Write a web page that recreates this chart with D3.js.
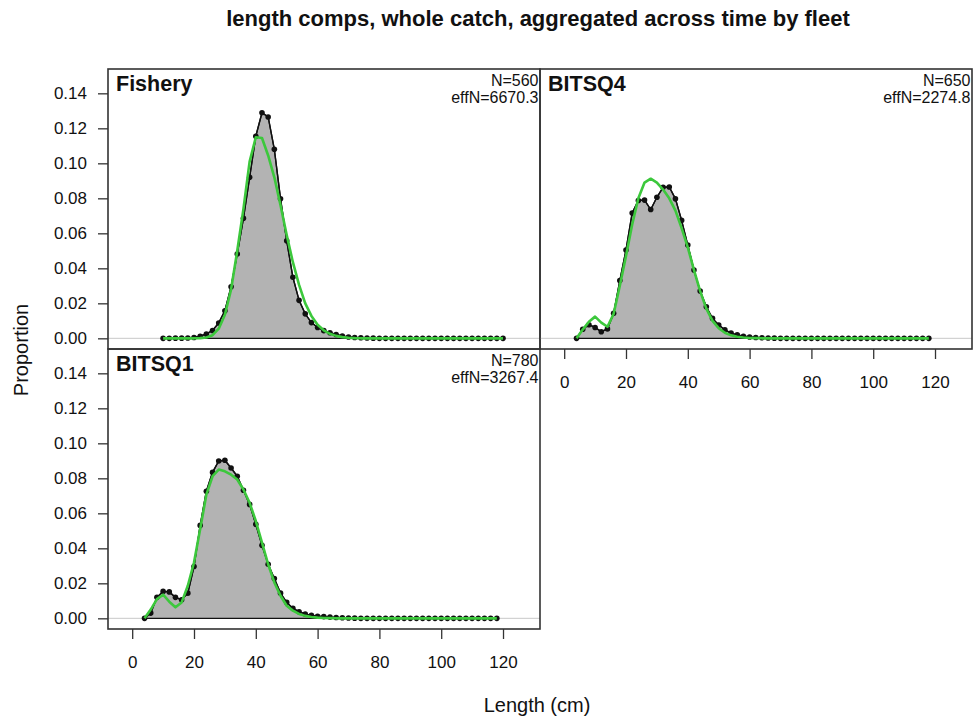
<!DOCTYPE html>
<html>
<head>
<meta charset="utf-8">
<script src="https://cdn.jsdelivr.net/npm/d3@7"></script>
<style>
  body { margin: 0; background: #fff; }
  text { font-family: "Liberation Sans", Arial, sans-serif; fill: #111; }
</style>
</head>
<body>
<script>
// length bins (cm)
const fisheryBins = [10, 12, 14, 16, 18, 20, 22, 24, 26, 28, 30, 32, 34, 36, 38, 40, 42, 44, 46, 48,
  50, 52, 54, 56, 58, 60, 62, 64, 66, 68, 70, 72, 74, 76, 78, 80, 82, 84, 86, 88,
  90, 92, 94, 96, 98, 100, 102, 104, 106, 108, 110, 112, 114, 116, 118, 120];
const surveyBins = [4, 6, 8, 10, 12, 14, 16, 18, 20, 22, 24, 26, 28, 30, 32, 34, 36, 38, 40, 42,
  44, 46, 48, 50, 52, 54, 56, 58, 60, 62, 64, 66, 68, 70, 72, 74, 76, 78, 80, 82,
  84, 86, 88, 90, 92, 94, 96, 98, 100, 102, 104, 106, 108, 110, 112, 114, 116, 118];

// observed (black) and expected (green) proportions
const fisheryObs = [0, 0, 0.0001, 0.0001, 0.0002, 0.0005, 0.0012, 0.0025, 0.0045, 0.0088,
  0.0158, 0.0295, 0.0482, 0.0686, 0.0920, 0.1155, 0.1289, 0.1265, 0.1080, 0.0798,
  0.0557, 0.0349, 0.0217, 0.0140, 0.0090, 0.0062, 0.0044, 0.0032, 0.0022, 0.0013,
  0.0008, 0.0005, 0.0003, 0.0002, 0.0001, 0, 0, 0, 0, 0,
  0, 0, 0, 0, 0, 0, 0, 0, 0, 0, 0, 0, 0, 0, 0, 0];
const fisheryExp = [0, 0, 0, 0, 0, 0, 0.0001, 0.0005, 0.0018, 0.0055,
  0.0135, 0.0280, 0.0500, 0.0740, 0.1010, 0.1149, 0.1145, 0.1045, 0.0920, 0.0760,
  0.0590, 0.0435, 0.0305, 0.0200, 0.0128, 0.0078, 0.0046, 0.0026, 0.0014, 0.0007,
  0.0003, 0.0001, 0, 0, 0, 0, 0, 0, 0, 0,
  0, 0, 0, 0, 0, 0, 0, 0, 0, 0, 0, 0, 0, 0, 0, 0];

const bitsq4Obs = [0, 0.0052, 0.0078, 0.0062, 0.0038, 0.0054, 0.0143, 0.0330, 0.0505, 0.0716,
  0.0788, 0.0790, 0.0736, 0.0806, 0.0863, 0.0865, 0.0797, 0.0674, 0.0533, 0.0390,
  0.0270, 0.0180, 0.0114, 0.0076, 0.0049, 0.0030, 0.0020, 0.0012, 0.0008, 0.0005,
  0.0003, 0.0002, 0.0001, 0, 0, 0, 0, 0, 0, 0,
  0, 0, 0, 0, 0, 0, 0, 0, 0, 0, 0, 0, 0, 0, 0, 0, 0, 0];
const bitsq4Exp = [0, 0.0050, 0.0095, 0.0124, 0.0090, 0.0066, 0.0140, 0.0300, 0.0470, 0.0650,
  0.0800, 0.0890, 0.0912, 0.0890, 0.0850, 0.0800, 0.0730, 0.0630, 0.0520, 0.0390,
  0.0270, 0.0170, 0.0100, 0.0058, 0.0032, 0.0017, 0.0009, 0.0005, 0.0002, 0.0001,
  0, 0, 0, 0, 0, 0, 0, 0, 0, 0,
  0, 0, 0, 0, 0, 0, 0, 0, 0, 0, 0, 0, 0, 0, 0, 0, 0, 0];

const bitsq1Obs = [0, 0.0030, 0.0120, 0.0154, 0.0151, 0.0120, 0.0106, 0.0144, 0.0296, 0.0531,
  0.0726, 0.0834, 0.0899, 0.0903, 0.0859, 0.0812, 0.0732, 0.0651, 0.0537, 0.0417,
  0.0309, 0.0228, 0.0144, 0.0091, 0.0057, 0.0038, 0.0025, 0.0017, 0.0012, 0.0010,
  0.0007, 0.0005, 0.0003, 0.0002, 0.0001, 0, 0, 0, 0, 0,
  0, 0, 0, 0, 0, 0, 0, 0, 0, 0, 0, 0, 0, 0, 0, 0, 0, 0];
const bitsq1Exp = [0, 0.0050, 0.0110, 0.0135, 0.0095, 0.0063, 0.0091, 0.0186, 0.0319, 0.0510,
  0.0707, 0.0812, 0.0850, 0.0840, 0.0821, 0.0793, 0.0736, 0.0660, 0.0556, 0.0433,
  0.0309, 0.0205, 0.0129, 0.0072, 0.0044, 0.0025, 0.0014, 0.0008, 0.0004, 0.0002,
  0.0001, 0, 0, 0, 0, 0, 0, 0, 0, 0,
  0, 0, 0, 0, 0, 0, 0, 0, 0, 0, 0, 0, 0, 0, 0, 0, 0, 0];

const fleetNames = ["Fishery", "BITSQ4", "BITSQ1"];
const sampleN = [560, 650, 780];
const effN = [6670.3, 2274.8, 3267.4];

const xTicks = [0, 20, 40, 60, 80, 100, 120];
const yTicks = [0, 0.02, 0.04, 0.06, 0.08, 0.10, 0.12, 0.14];

// chart size
const width = 977;
const height = 720;
const panelW = 432;
const panelH = 280;

const svg = d3.select("body").append("svg")
    .attr("width", width)
    .attr("height", height);

const x = d3.scaleLinear().domain([-7.83, 131.97]).range([0, panelW]);
const y = d3.scaleLinear().domain([-0.0061, 0.1539]).range([panelH, 0]);

const panels = [
  { i: 0, bins: fisheryBins, obs: fisheryObs, exp: fisheryExp, left: 108, top: 69, xAxis: false, yAxis: true },
  { i: 1, bins: surveyBins, obs: bitsq4Obs, exp: bitsq4Exp, left: 540, top: 69, xAxis: true, yAxis: false },
  { i: 2, bins: surveyBins, obs: bitsq1Obs, exp: bitsq1Exp, left: 108, top: 349, xAxis: true, yAxis: true }
];

panels.forEach(drawPanel);

function drawPanel(p) {
  const g = svg.append("g").attr("transform", `translate(${p.left},${p.top})`);
  const pts = p.bins.map((b, k) => ({ len: b, obs: p.obs[k], exp: p.exp[k] }));

  // zero line
  g.append("line")
      .attr("x1", 0).attr("x2", panelW)
      .attr("y1", y(0)).attr("y2", y(0))
      .attr("stroke", "#c8c8c8").attr("stroke-width", 1);

  // observed polygon
  const area = d3.area().x(d => x(d.len)).y0(y(0)).y1(d => y(d.obs));
  g.append("path")
      .datum(pts)
      .attr("d", area)
      .attr("fill", "#b3b3b3")
      .attr("stroke", "#111")
      .attr("stroke-width", 1.3);

  g.append("path")
      .datum(pts)
      .attr("d", d3.line().x(d => x(d.len)).y(d => y(d.obs)))
      .attr("fill", "none")
      .attr("stroke", "#111")
      .attr("stroke-width", 1.4);

  g.selectAll("circle")
      .data(pts)
      .enter().append("circle")
      .attr("cx", d => x(d.len))
      .attr("cy", d => y(d.obs))
      .attr("r", 2.8)
      .attr("fill", "#111");

  // expected line
  g.append("path")
      .datum(pts)
      .attr("d", d3.line().x(d => x(d.len)).y(d => y(d.exp)))
      .attr("fill", "none")
      .attr("stroke", "#3cc83c")
      .attr("stroke-width", 2.6)
      .attr("stroke-linejoin", "round");

  // panel border
  g.append("rect")
      .attr("width", panelW).attr("height", panelH)
      .attr("fill", "none")
      .attr("stroke", "#333")
      .attr("stroke-width", 1.6);

  g.append("text")
      .attr("x", 8).attr("y", 21.7)
      .style("font-size", "21.5px")
      .style("font-weight", "bold")
      .text(fleetNames[p.i]);

  g.append("text")
      .attr("x", panelW - 1.5).attr("y", 17)
      .attr("text-anchor", "end")
      .style("font-size", "16px")
      .text("N=" + sampleN[p.i]);

  g.append("text")
      .attr("x", panelW - 1.5).attr("y", 34)
      .attr("text-anchor", "end")
      .style("font-size", "16px")
      .text("effN=" + effN[p.i].toFixed(1));

  if (p.yAxis) {
    const ay = g.append("g")
        .call(d3.axisLeft(y).tickValues(yTicks).tickFormat(d3.format(".2f")).tickSize(10).tickPadding(11));
    styleAxis(ay);
  }
  if (p.xAxis) {
    const ax = g.append("g")
        .attr("transform", `translate(0,${panelH})`)
        .call(d3.axisBottom(x).tickValues(xTicks).tickSize(10).tickPadding(17));
    styleAxis(ax);
  }
}

function styleAxis(a) {
  a.select(".domain").remove();
  a.selectAll("line").attr("stroke", "#333").attr("stroke-width", 1.3);
  a.selectAll("text")
      .style("font-family", "'Liberation Sans', Arial, sans-serif")
      .style("font-size", "17px")
      .attr("fill", "#111");
}

// titles
svg.append("text")
    .attr("x", 538).attr("y", 26)
    .attr("text-anchor", "middle")
    .style("font-size", "22px")
    .style("font-weight", "bold")
    .text("length comps, whole catch, aggregated across time by fleet");

svg.append("text")
    .attr("x", 537).attr("y", 712)
    .attr("text-anchor", "middle")
    .style("font-size", "20px")
    .text("Length (cm)");

svg.append("text")
    .attr("transform", "translate(28,350) rotate(-90)")
    .attr("text-anchor", "middle")
    .style("font-size", "20px")
    .text("Proportion");
</script>
</body>
</html>
